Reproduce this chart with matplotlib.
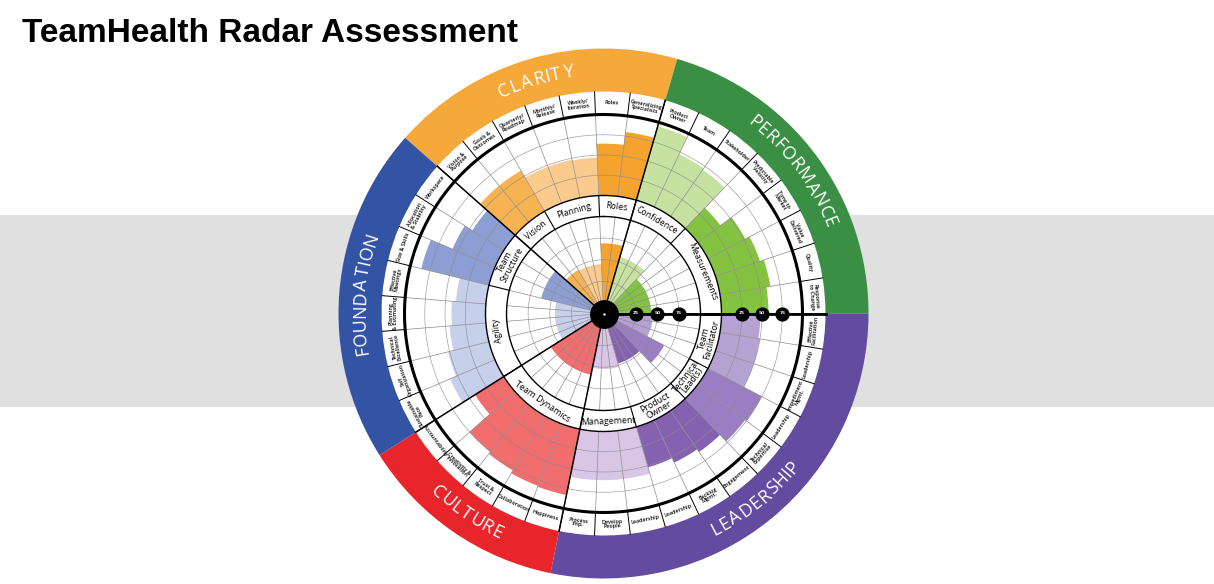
import numpy as np
import matplotlib.pyplot as plt
from matplotlib.textpath import TextPath
from matplotlib.font_manager import FontProperties

# ---- data ----
categories = ['CLARITY', 'PERFORMANCE', 'LEADERSHIP', 'CULTURE', 'FOUNDATION']
cat_sizes = [7, 8, 11, 5, 8]
cat_colors = ['#F7A83A', '#3A8F45', '#634B9F', '#E8252A', '#3354A4']

groups = ['Vision', 'Planning', 'Roles', 'Confidence', 'Measurements',
          'Team\nFacilitator', 'Technical\nLead(s)', 'Product\nOwner', 'Management',
          'Team Dynamics', 'Agility', 'Team\nStructure']
group_sizes = [2, 3, 2, 3, 5, 3, 2, 3, 3, 5, 5, 3]
group_colors = ['#F7B252', '#FBCB8E', '#F6A22F', '#C7E2A0', '#84C341',
                '#B6A1D3', '#9A7DC2', '#8462B1', '#D9C5E5',
                '#F26D6D', '#C6D0EB', '#8C9ED3']
group_scores = [46, 45, 69, 56, 43, 45, 67, 48, 52, 60, 44, 62]

items = ['Vision &\nPurpose', 'Goals &\nOutcomes', 'Quarterly/\nRoadmap', 'Monthly/\nRelease',
         'Weekly/\nIteration', 'Roles', 'Generalizing\nSpecialists',
         'Product\nOwner', 'Team', 'Stakeholder', 'Predictable\nVelocity', 'Time to\nMarket',
         'Value\nDelivered', 'Quality', 'Response\nto Change',
         'Effective\nFacilitation', 'Leadership', 'Impediment\nMgmt.', 'Leadership',
         'Technical\nExpertise', 'Engagement', 'Backlog\nMgmt.', 'Leadership',
         'Leadership', 'Develop\nPeople', 'Process\nImp.',
         'Happiness', 'Collaboration', 'Trust &\nRespect', 'Creativity &\nInnovation',
         'Accountability',
         'Sustainable\nPace', 'Self\nOrganization', 'Technical\nExcellence',
         'Planning\n& Estimating', 'Effective\nMeetings', 'Size & Skills',
         'Allocation\n& Stability', 'Workspace']
item_scores = [58, 58, 48, 48, 47, 64, 80,
               95, 72, 70, 35, 52, 58, 63, 58,
               48, 50, 50, 75, 73, 62, 58, 52, 60, 60, 60,
               83, 82, 78, 75, 42,
               60, 52, 45, 42, 37, 86, 57, 46]
ticks = [25, 50, 75]

# ---- geometry (pixels) ----
W, H = 1214, 584
cx, cy, R = 603.5, 313.5, 270
n = len(items)
step = 2 * np.pi / n
start = np.pi / 2 - 15 * step          # leadership starts at 3 o'clock
edges = start + step * np.arange(n)
mids = edges + step / 2

IN0, IN_S = 10.5, 0.865                # inner scale
OUT0, OUT_S = 118, 0.81                # outer scale
RING_IN, RING_OUT = 97, 118
LAB_IN, LAB_OUT = 199, 222
CAT_OUT = 265

item_group = np.repeat(np.arange(len(groups)), group_sizes)
g_edges = start + step * np.concatenate([[0], np.cumsum(group_sizes)])
c_edges = start + step * np.concatenate([[0], np.cumsum(cat_sizes)])

fig = plt.figure(figsize=(12.14, 5.84), dpi=100)
bg = fig.add_axes([0, 0, 1, 1])
bg.set_xlim(0, W)
bg.set_ylim(H, 0)
bg.axis('off')
bg.axhspan(215, 407, color='#e0e0e0', lw=0)
bg.text(22, 42, 'TeamHealth Radar Assessment', fontsize=24, fontweight='bold',
        family='Liberation Sans', va='baseline')

ax = fig.add_axes([(cx - R) / W, (H - cy - R) / H, 2 * R / W, 2 * R / H], projection='polar')
ax.set_theta_zero_location('N')
ax.set_theta_direction(-1)
ax.set_ylim(0, R)
ax.axis('off')

# white disc, category ring
ax.bar(0, LAB_OUT, width=2 * np.pi, bottom=0, color='white', lw=0)
ax.bar(c_edges[:-1], CAT_OUT - LAB_OUT, width=np.diff(c_edges), bottom=LAB_OUT,
       align='edge', color=cat_colors, lw=0)

# bars
ax.bar(edges, OUT_S * np.array(item_scores), width=step, bottom=OUT0, align='edge',
       color=[group_colors[g] for g in item_group], lw=0)
ax.bar(g_edges[:-1], IN_S * np.array(group_scores), width=np.diff(g_edges), bottom=IN0,
       align='edge', color=group_colors, lw=0)

# grid
th = np.linspace(0, 2 * np.pi, 500)
for t in ticks:
    ax.plot(th, np.full_like(th, OUT0 + OUT_S * t), color='#8c8c8c', lw=0.5, alpha=0.8)
    ax.plot(th, np.full_like(th, IN0 + IN_S * t), color='#8c8c8c', lw=0.5, alpha=0.8)
for e in edges:
    ax.plot([e, e], [13, RING_IN], color='#8c8c8c', lw=0.5)
    ax.plot([e, e], [RING_OUT, LAB_IN], color='#8c8c8c', lw=0.5)
    ax.plot([e, e], [LAB_IN, LAB_OUT], color='black', lw=0.7)
for e in c_edges[:-1]:
    ax.plot([e, e], [0, LAB_OUT], color='black', lw=1.1)
ax.plot([np.pi / 2] * 2, [0, LAB_OUT], color='black', lw=2)

# label ring
ax.bar(0, RING_OUT - RING_IN, width=2 * np.pi, bottom=RING_IN, color='white', lw=0)
for e in g_edges[:-1]:
    ax.plot([e, e], [RING_IN, RING_OUT], color='black', lw=0.8)
ax.plot([np.pi / 2] * 2, [RING_IN, RING_OUT], color='black', lw=2)
ax.plot(th, np.full_like(th, RING_IN), color='black', lw=1)
ax.plot(th, np.full_like(th, RING_OUT), color='black', lw=1)
ax.plot(th, np.full_like(th, LAB_IN), color='black', lw=2.2)

# tick markers
for t in ticks:
    for r in (IN0 + IN_S * t, OUT0 + OUT_S * t):
        ax.scatter(np.pi / 2, r, s=85, color='black', zorder=5)
        ax.text(np.pi / 2, r, str(t), color='white', fontsize=3.2, fontweight='bold',
                ha='center', va='center', zorder=6)
ax.scatter(0, 0, s=390, color='black', zorder=5)
ax.scatter(0, 0, s=0.6, color='white', zorder=6)


def rot(theta, flip_lo=90, flip_hi=237.7):
    d = np.degrees(theta) % 360
    if flip_lo < d < flip_hi:
        return 180 - d
    return -d


# inner labels
for i, g in enumerate(groups):
    m = (g_edges[i] + g_edges[i + 1]) / 2
    ax.text(m, (RING_IN + RING_OUT) / 2, g, fontsize=6.3, family='Open Sans',
            ha='center', va='center', rotation=rot(m), rotation_mode='anchor',
            linespacing=0.85, zorder=7)

# item labels
for k, s in enumerate(items):
    ax.text(mids[k], (LAB_IN + LAB_OUT) / 2, s, fontsize=3.9, family='Open Sans',
            fontweight='semibold', ha='center', va='center', rotation=rot(mids[k]),
            rotation_mode='anchor', linespacing=0.85, zorder=7)

# curved category names
fs = 13
fp = FontProperties(family='Open Sans', size=fs)
px = 100 / 72
r_txt = (LAB_OUT + CAT_OUT) / 2
for i, name in enumerate(categories):
    m = (c_edges[i] + c_edges[i + 1]) / 2
    ws = [TextPath((0, 0), ch, size=fs, prop=fp).get_extents().width * px for ch in name]
    gap = 3.0
    total = sum(ws) + gap * (len(ws) - 1)
    d = np.degrees(m) % 360
    lower = 90 < d < 237.7
    pos = -total / 2
    for ch, w in zip(name, ws):
        a = (pos + w / 2) / r_txt
        t = m - a if lower else m + a
        ax.text(t, r_txt, ch, fontproperties=fp, color='white', ha='center', va='center',
                rotation=rot(t), rotation_mode='anchor', zorder=7)
        pos += w + gap

fig.savefig('out.png', dpi=100)
